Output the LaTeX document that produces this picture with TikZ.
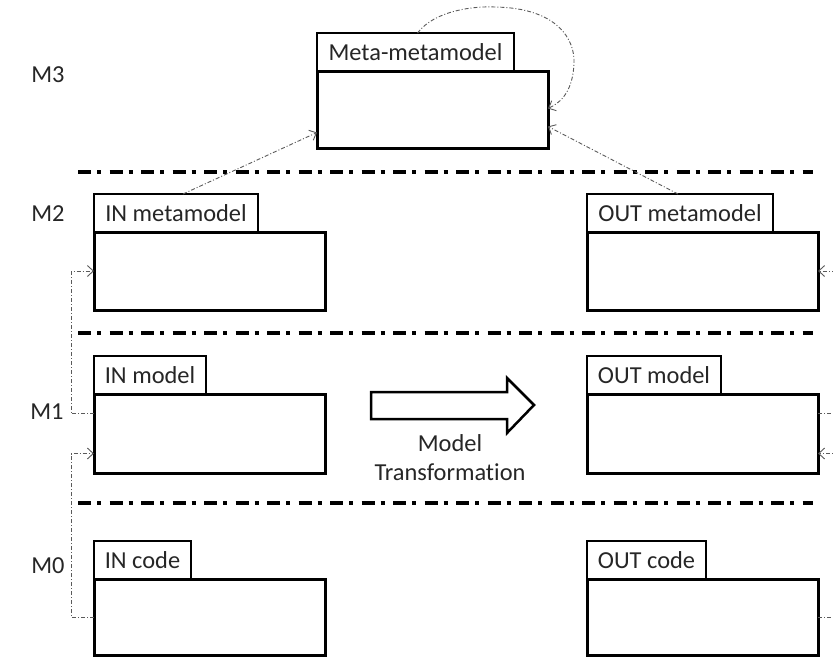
\documentclass[tikz,border=0pt]{standalone}
\usepackage{fontspec}
\setmainfont{Carlito}[Ligatures=NoCommon]
\usetikzlibrary{arrows.meta,calc}
\definecolor{inkgray}{HTML}{262626}
\definecolor{linkgray}{HTML}{5A5A5A}
\tikzset{
  txt/.style={font=\fontsize{24.4}{29}\selectfont, text=inkgray},
  pkgtab/.style={txt, draw=black, line width=1.8pt, fill=white, minimum height=38pt,
    inner xsep=8pt, inner ysep=0pt, outer sep=0pt, anchor=south west},
  pkgbody/.style={draw=black, line width=3pt, fill=white, minimum width=231pt,
    inner sep=0pt, outer sep=0pt, anchor=north west},
  layerline/.style={line width=3.6pt, dash pattern=on 13pt off 6pt on 4pt off 8.5pt},
  link/.style={draw=linkgray, line width=0.9pt, dash pattern=on 4pt off 2pt on 1pt off 2pt,
    -{Straight Barb[length=6pt,width=11pt]}},
  level/.style={txt, inner sep=0pt}
}
\begin{document}
\begin{tikzpicture}[x=1pt, y=-1pt]
\useasboundingbox (0,0) rectangle (833,657);

% layer names
\node[level] (m3) at (48,75) {M3};
\node[level] (m2) at (48,214) {M2};
\node[level] (m1) at (47,412) {M1};
\node[level] (m0) at (48,566) {M0};

% layer separators
\coordinate (s1a) at (78,172);  \coordinate (s1b) at (813,172);
\coordinate (s2a) at (78,333);  \coordinate (s2b) at (813,333);
\coordinate (s3a) at (78,503);  \coordinate (s3b) at (813,503);
\draw[layerline] (s1a) -- (s1b);
\draw[layerline] (s2a) -- (s2b);
\draw[layerline] (s3a) -- (s3b);

% packages: tab + body
\node[pkgtab, minimum width=197pt] (mmmtab) at (317,71) {Meta-metamodel};
\node[pkgbody, minimum height=77pt] (mmm) at (317,71) {};

\node[pkgtab, minimum width=164pt] (inmmtab) at (94,232) {IN metamodel};
\node[pkgbody, minimum height=78pt] (inmm) at (94,232) {};
\node[pkgtab, minimum width=186pt] (outmmtab) at (587,232) {OUT metamodel};
\node[pkgbody, minimum height=78pt] (outmm) at (587,232) {};

\node[pkgtab, minimum width=112pt] (inmodeltab) at (94,394) {IN model};
\node[pkgbody, minimum height=79pt] (inmodel) at (94,394) {};
\node[pkgtab, minimum width=134pt] (outmodeltab) at (587,394) {OUT model};
\node[pkgbody, minimum height=79pt] (outmodel) at (587,394) {};

\node[pkgtab, minimum width=97pt] (incodetab) at (94,579) {IN code};
\node[pkgbody, minimum height=76pt] (incode) at (94,579) {};
\node[pkgtab, minimum width=119pt] (outcodetab) at (587,579) {OUT code};
\node[pkgbody, minimum height=76pt] (outcode) at (587,579) {};

% conformance links
\draw[link] ([xshift=7pt]inmmtab.north) -- ([yshift=-23pt]mmm.west);
\draw[link] ([xshift=-2pt]outmmtab.north) -- ([yshift=-17pt]mmm.east);
\draw[link] ([xshift=2pt]mmmtab.north)
  .. controls (435,10) and (475,6) .. (495,7)
  .. controls (558,8) and (575,40) .. (574,63)
  .. controls (573,90) and (562,102) .. ([yshift=1pt]mmm.east);

\draw[link] ([yshift=20pt]inmodel.west) -- ++(-23,0) |- (inmm.west);
\draw[link] (incode.west) -- ++(-23,0) |- ([yshift=-20pt]inmodel.west);
\draw[link] ([yshift=20pt]outmodel.east) -- ++(23,0) |- (outmm.east);
\draw[link] (outcode.east) -- ++(23,0) |- ([yshift=-20pt]outmodel.east);

% transformation arrow
\draw[line width=2.5pt, line join=miter, fill=white]
  (371,392) -- (507,392) -- (507,378) -- (534,405) -- (507,433) -- (507,419) -- (371,419) -- cycle;
\node[txt, align=center, inner sep=0pt] (trlabel) at (450,458) {Model\\Transformation};
\end{tikzpicture}
\end{document}
